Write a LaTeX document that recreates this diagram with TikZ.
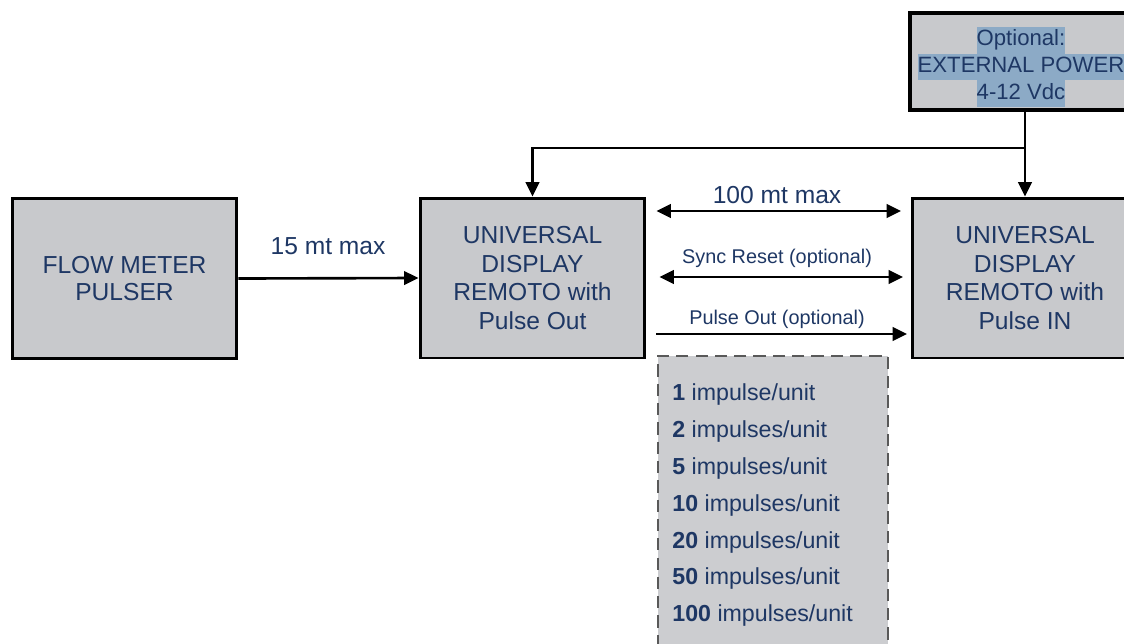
\documentclass[tikz,border=0pt]{standalone}
\usepackage{fontspec}
\setmainfont{Liberation Sans}
\usepackage{xcolor}
\usetikzlibrary{positioning,arrows.meta,calc}
\definecolor{txtblue}{RGB}{30,55,100}
\definecolor{boxgray}{RGB}{200,201,204}
\definecolor{hlblue}{RGB}{140,170,198}
\newcommand{\hlline}[1]{\colorbox{hlblue}{\strut #1}}

\begin{document}
\begin{tikzpicture}[
  x=0.02cm,y=-0.02cm,
  font=\fontsize{14}{16.3}\selectfont,
  unit/.style={draw=black,line width=1.7pt,fill=boxgray,minimum width=4.5cm,minimum height=3.2cm,
    align=center,text=txtblue,inner sep=0pt},
  pwrbox/.style={draw=black,line width=2pt,fill=boxgray,minimum width=4.6cm,minimum height=1.94cm,inner sep=0pt},
  optbox/.style={draw=black!65,line width=1.2pt,dash pattern=on 7pt off 4pt,fill=boxgray!92,
    minimum width=4.6cm,minimum height=6.1cm,inner sep=0pt},
  lbl/.style={text=txtblue,anchor=base,inner sep=0pt},
  small/.style={font=\fontsize{11.3}{13}\selectfont},
  ar/.style={-{Triangle[length=2.9mm,width=2.7mm]},line width=1.5pt},
  dbl/.style={{Triangle[length=2.9mm,width=2.7mm]}-{Triangle[length=2.9mm,width=2.7mm]},line width=1.5pt},
]
\useasboundingbox (0,0) rectangle (1124,643);
% main units
\node[unit,font=\fontsize{14}{15.7}\selectfont] (flow) at (124.5,278.5) {FLOW METER\\PULSER};
\node[unit] (udout) at (532.5,278) {UNIVERSAL\\DISPLAY\\REMOTO with\\Pulse Out};
\node[unit] (udin) at (1025,278) {UNIVERSAL\\DISPLAY\\REMOTO with\\Pulse IN};
% external power
\node[pwrbox] (pwr) at (1025,61.5) {};
\node[text=txtblue,align=center,inner sep=0pt,font=\fontsize{12.6}{15.3}\selectfont,
  execute at begin node={\setlength{\fboxsep}{0pt}}] (pwrtxt) at (1021,67)
  {\hlline{Optional:}\\\hlline{EXTERNAL POWER}\\\hlline{4-12 Vdc}};
\coordinate (tee) at (1025,148);
\draw[ar] (pwr.south) -- (udin.north);
\draw[ar] (tee) -| (udout.north);
% flow meter link
\draw[ar] (flow.east) -- (udout.west);
\node[lbl] (flowlbl) at (328,254) {15 mt max};
% links between displays
\draw[dbl,shorten <=0.2cm,shorten >=0.2cm] (udout.east |- 0,211) -- (udin.west |- 0,211);
\node[lbl] (distlbl) at (777,203) {100 mt max};
\draw[dbl,shorten <=0.26cm,shorten >=0.16cm] (udout.east |- 0,277) -- (udin.west |- 0,277);
\node[lbl,small] (synclbl) at (777,263) {Sync Reset (optional)};
\draw[ar,shorten <=0.2cm,shorten >=0.08cm] (udout.east |- 0,334) -- (udin.west |- 0,334);
\node[lbl,small] (pulselbl) at (777,324) {Pulse Out (optional)};
% pulse options
\node[optbox] (opts) at (773,508.5) {};
\foreach \n/\w [count=\i] in {1/impulse,2/impulses,5/impulses,10/impulses,20/impulses,50/impulses,100/impulses}
  \node[text=txtblue,anchor=base west,inner sep=0pt,font=\fontsize{13.2}{15}\selectfont] (opt\i)
    at (672,364+\i*36.8) {\textbf{\n} \w/unit};
\end{tikzpicture}
\end{document}
